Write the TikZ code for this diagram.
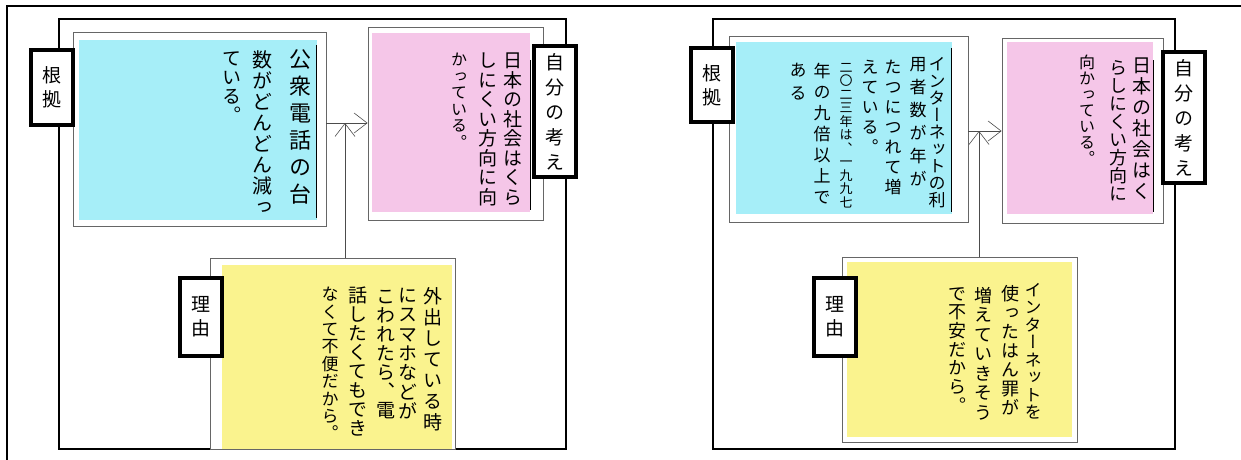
\documentclass[tikz,border=0pt]{standalone}
\usepackage{fontspec}
\newfontfamily\jpfont{Noto Sans CJK JP}
\newfontfamily\tatefont[RawFeature=+vert]{Noto Sans CJK JP}
\usetikzlibrary{arrows.meta}
\definecolor{notecyan}{RGB}{166,238,248}
\definecolor{notepink}{RGB}{245,198,232}
\definecolor{noteyellow}{RGB}{250,243,142}
\makeatletter
\newcommand\tatecol[2]{\vtop{\baselineskip=#1\lineskiplimit=-\maxdimen\@tfor\tate@ch:=#2\do{\hbox to 1.1em{\hss\tate@ch\hss}}}}
\makeatother

\begin{document}
\begin{tikzpicture}[x=1pt,y=-1pt,
	panel/.style={draw=black, line width=2pt},
	noteframe/.style={draw=black!60, line width=0.8pt, fill=white, inner sep=0pt},
	tag/.style={draw=black, line width=4pt, fill=white, inner sep=0pt, minimum width=42pt, font=\tatefont\fontsize{19}{19}\selectfont},
	hand/.style={font=\tatefont\fontsize{#1}{#1}\selectfont, anchor=north, inner sep=0pt},
	link/.style={draw=black!70, line width=0.6pt, -{Straight Barb[length=13pt,width=20pt,line width=0.6pt]}}]
	%%%%% START %%%%%
	\useasboundingbox (0,0) rectangle (1241,459);
	\draw[line width=1.5pt] (7,6) rectangle (1270,490);
	
	%% left sheet
	\draw[panel] (59,19) rectangle (566,449);
	
	\node[noteframe, minimum width=253pt, minimum height=194pt] (kA) at (199.5,129) {};
	\fill[notecyan] (79,40) rectangle (317,220);
	\draw[line width=1pt] (316,45) -- (316,218);
	
	\node[noteframe, minimum width=175pt, minimum height=193pt] (oA) at (455.5,123.5) {};
	\fill[notepink] (372,33) rectangle (530,212);
	\draw[line width=1pt] (530,60) -- (530,210);
	
	\node[noteframe, minimum width=245pt, minimum height=191pt] (rA) at (332.5,353.5) {};
	\fill[noteyellow] (222,265) rectangle (452,449);
	
	\coordinate (jA) at (345,123);
	\draw[link] (kA.east |- jA) -- (oA.west |- jA);
	\draw[link] (rA.north -| jA) -- (jA);
	
	\node[tag, minimum height=75pt] (gA) at (52,87.5) {\tatecol{24pt}{根拠}};
	\node[tag, minimum height=131pt] (sA) at (554.5,111.5) {\tatecol{25pt}{自分の考え}};
	\node[tag, minimum height=78pt] (wA) at (201,317) {\tatecol{24pt}{理由}};
	
	\node[hand=22] (cA1) at (300,49) {\tatecol{27pt}{公衆電話の台}};
	\node[hand=20] (cA2) at (262,50) {\tatecol{21pt}{数がどんどん減っ}};
	\node[hand=19] (cA3) at (232,52) {\tatecol{19pt}{ている。}};
	
	\node[hand=19] (pA1) at (513,53) {\tatecol{19.5pt}{日本の社会はくら}};
	\node[hand=19] (pA2) at (488,53) {\tatecol{19.5pt}{しにくい方向に向}};
	\node[hand=16] (pA3) at (459,53) {\tatecol{16.5pt}{かっている。}};
	
	\node[hand=19] (yA1) at (433,287) {\tatecol{21pt}{外出している時}};
	\node[hand=19] (yA2) at (408,288) {\tatecol{19.3pt}{にスマホなどが}};
	\node[hand=19] (yA3) at (386,290) {\tatecol{19pt}{こわれたら、電}};
	\node[hand=19] (yA4) at (358,287) {\tatecol{19pt}{話したくてもでき}};
	\node[hand=17] (yA5) at (330,287) {\tatecol{17.4pt}{なくて不便だから。}};
	
	%% right sheet
	\draw[panel] (713,19) rectangle (1175,449);
	
	\node[noteframe, minimum width=239pt, minimum height=186pt] (kB) at (848.5,129) {};
	\fill[notecyan] (736,42) rectangle (952,214);
	\draw[line width=1pt] (951,48) -- (951,212);
	
	\node[noteframe, minimum width=161pt, minimum height=185pt] (oB) at (1082.5,130.5) {};
	\fill[notepink] (1007,42) rectangle (1153,214);
	\draw[line width=1pt] (1153,60) -- (1153,212);
	
	\node[noteframe, minimum width=235pt, minimum height=185pt] (rB) at (959.5,349.5) {};
	\fill[noteyellow] (847,262) rectangle (1072,437);
	
	\coordinate (jB) at (979,131);
	\draw[link] (kB.east |- jB) -- (oB.west |- jB);
	\draw[link] (rB.north -| jB) -- (jB);
	
	\node[tag, minimum height=74pt] (gB) at (712,85) {\tatecol{24pt}{根拠}};
	\node[tag, minimum height=131pt] (sB) at (1184,117.5) {\tatecol{25pt}{自分の考え}};
	\node[tag, minimum height=78pt] (wB) at (835,317) {\tatecol{24pt}{理由}};
	
	\node[hand=17] (cB1) at (937,57) {\tatecol{17pt}{インターネットの利}};
	\node[hand=17] (cB2) at (918,57) {\tatecol{23pt}{用者数が年が}};
	\node[hand=17] (cB3) at (893,60) {\tatecol{20pt}{たつにつれて増}};
	\node[hand=17] (cB4) at (870,60) {\tatecol{20pt}{えている。}};
	\node[hand=13] (cB5) at (846,63) {\tatecol{13.5pt}{二〇二三年は、一九九七}};
	\node[hand=17] (cB6) at (822,63) {\tatecol{21pt}{年の九倍以上で}};
	\node[hand=17] (cB7) at (798,63) {\tatecol{23pt}{ある}};
	
	\node[hand=19] (pB1) at (1142,58) {\tatecol{21pt}{日本の社会はく}};
	\node[hand=18] (pB2) at (1118,60) {\tatecol{18pt}{らしにくい方向に}};
	\node[hand=16] (pB3) at (1087,55) {\tatecol{16pt}{向かっている。}};
	
	\node[hand=17] (yB1) at (1033,283) {\tatecol{17.5pt}{インターネットを}};
	\node[hand=18] (yB2) at (1010,285) {\tatecol{19pt}{使ったはん罪が}};
	\node[hand=18] (yB3) at (983,287) {\tatecol{19.5pt}{増えていきそう}};
	\node[hand=18] (yB4) at (957,287) {\tatecol{18.7pt}{で不安だから。}};
	%%%%% END %%%%%
\end{tikzpicture}
\end{document}
